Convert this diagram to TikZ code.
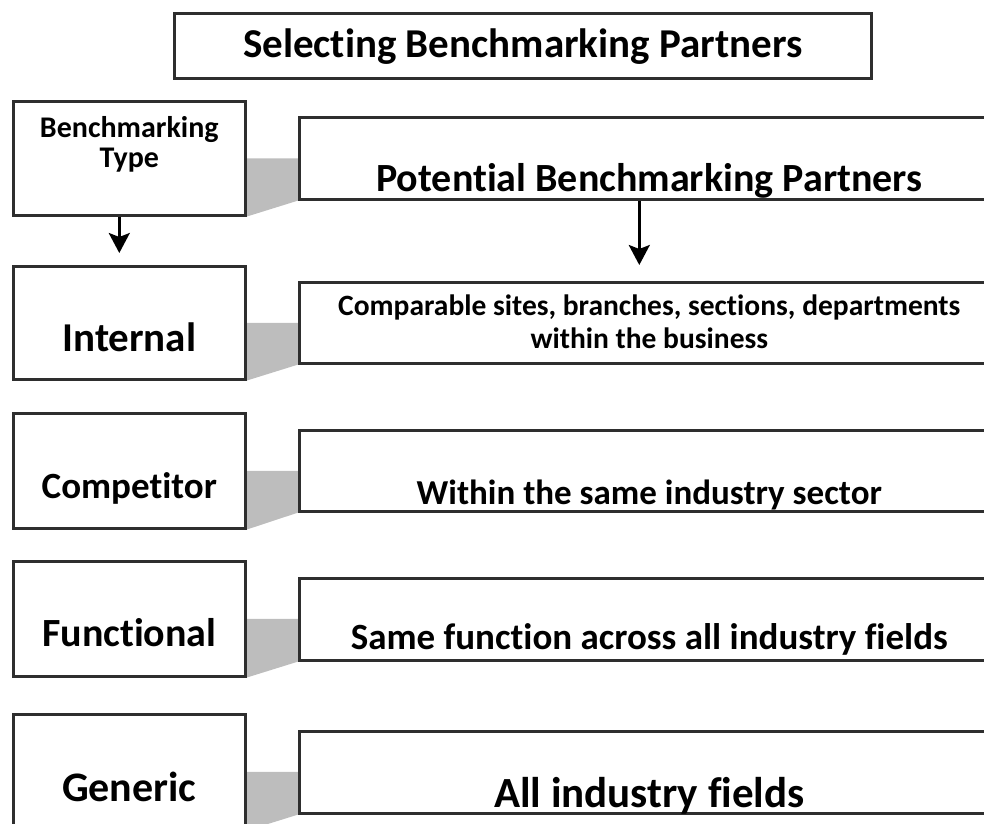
\documentclass[tikz,border=0pt]{standalone}
\usepackage{fontspec}
\setmainfont{Carlito}[Ligatures=NoCommon]
\usetikzlibrary{arrows.meta}
\usetikzlibrary{backgrounds}
\usetikzlibrary{positioning}
\definecolor{boxline}{HTML}{2E2E2E}
\definecolor{jointgray}{HTML}{BDBDBD}
\newcommand{\fs}[1]{\fontsize{#1}{#1}\selectfont\bfseries}
\tikzset{
  box/.style={draw=boxline, line width=2.6pt, fill=white, inner sep=0pt, anchor=north west},
  typebox/.style={box, minimum width=232pt},
  partnerbox/.style={box, minimum width=700pt},
  godown/.style={-{Stealth[length=20pt,width=21pt,inset=4pt]}, line width=2.8pt, draw=black},
}
% grey wedge from a type box to its partner box
\newcommand{\joint}[2]{\fill[jointgray] (#1.east) -- (#2.west |- #1.east) -- (#2.south west) -- (#1.south east) -- cycle;}

\begin{document}
\begin{tikzpicture}[x=1pt,y=-1pt]
\useasboundingbox (0,0) rectangle (984,823);

\node[box, minimum width=697pt, text height=44pt, text depth=21pt, font=\fs{41}] (title) at (173,12) {Selecting Benchmarking Partners};

%left column
\node[typebox, align=center, text height=66pt, text depth=48pt, font={\fontsize{30}{30}\selectfont\bfseries}] (type) at (12,100) {Benchmarking\\Type};
\node[typebox, text height=85pt, text depth=28pt, font=\fs{41}] (internal) at (12,265) {Internal};
\node[typebox, text height=85pt, text depth=30pt, font=\fs{37}] (competitor) at (12,412) {Competitor};
\node[typebox, text height=85pt, text depth=30pt, font=\fs{40}] (functional) at (12,560) {Functional};
\node[typebox, text height=87pt, text depth=28pt, font=\fs{42}] (generic) at (12,713) {Generic};

%right column
\node[partnerbox, text height=74pt, text depth=8pt, font=\fs{40}] (potential) at (298,116) {Potential Benchmarking Partners};
\node[partnerbox, align=center, text height=66pt, text depth=15pt, font={\fontsize{29.5}{33}\selectfont\bfseries}] (comparable) at (298,281) {Comparable sites, branches, sections, departments\\within the business};
\node[partnerbox, text height=74pt, text depth=7pt, font=\fs{35}] (within) at (298,429) {Within the same industry sector};
\node[partnerbox, text height=71pt, text depth=11pt, font=\fs{37}] (same) at (298,577) {Same function across all industry fields};
\node[partnerbox, text height=76pt, text depth=6pt, font=\fs{43}] (all) at (298,730) {All industry fields};

\begin{scope}[on background layer]
\joint{type}{potential}
\joint{internal}{comparable}
\joint{competitor}{within}
\joint{functional}{same}
\joint{generic}{all}
\end{scope}

\draw[godown, shorten >=12pt] ([xshift=-10pt]type.south) -- ([xshift=-10pt]internal.north);
\draw[godown, shorten >=16pt] ([xshift=-10pt]potential.south) -- ([xshift=-10pt]comparable.north);
\end{tikzpicture}
\end{document}
